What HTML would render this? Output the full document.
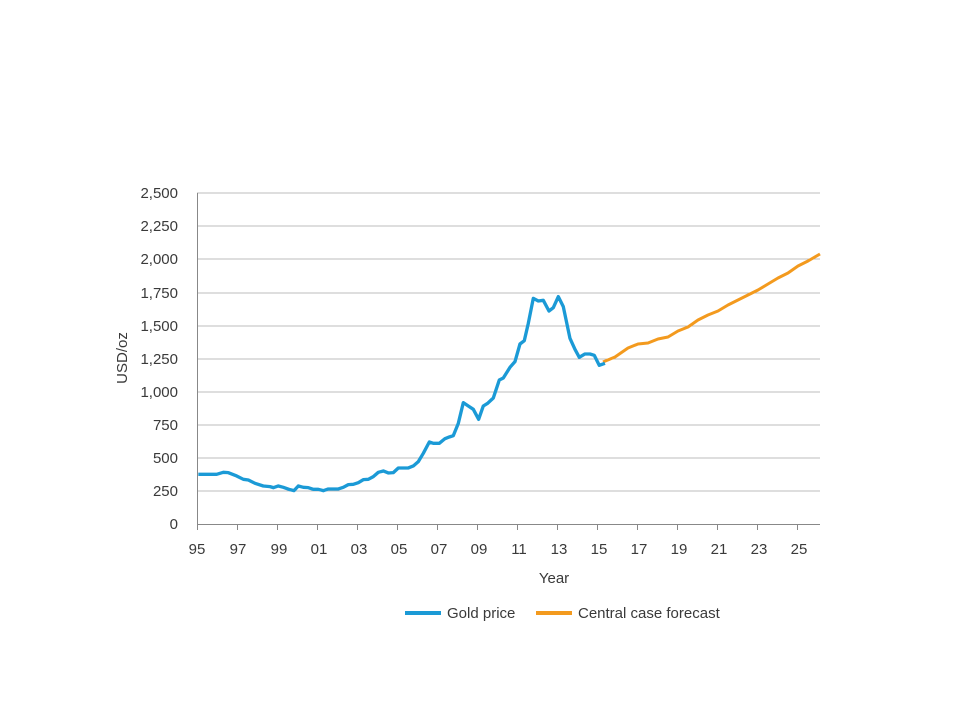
<!DOCTYPE html><html><head><style>body{margin:0;background:#fff}svg{display:block}text{font-family:"Liberation Sans",sans-serif;fill:#3a3a3a;font-size:15px}</style></head><body>
<svg width="960" height="720" viewBox="0 0 960 720">
<g stroke="#bdbdbd" stroke-width="1">
<line x1="197" x2="820" y1="491" y2="491"/><line x1="197" x2="820" y1="458" y2="458"/><line x1="197" x2="820" y1="425" y2="425"/><line x1="197" x2="820" y1="392" y2="392"/><line x1="197" x2="820" y1="359" y2="359"/><line x1="197" x2="820" y1="326" y2="326"/><line x1="197" x2="820" y1="293" y2="293"/><line x1="197" x2="820" y1="259" y2="259"/><line x1="197" x2="820" y1="226" y2="226"/><line x1="197" x2="820" y1="193" y2="193"/>
</g>
<g stroke="#888" stroke-width="1"><line x1="197.5" y1="193" x2="197.5" y2="530"/><line x1="197" x2="820" y1="524.5" y2="524.5"/>
<line x1="237.5" x2="237.5" y1="524" y2="530"/><line x1="277.5" x2="277.5" y1="524" y2="530"/><line x1="317.5" x2="317.5" y1="524" y2="530"/><line x1="357.5" x2="357.5" y1="524" y2="530"/><line x1="397.5" x2="397.5" y1="524" y2="530"/><line x1="437.5" x2="437.5" y1="524" y2="530"/><line x1="477.5" x2="477.5" y1="524" y2="530"/><line x1="517.5" x2="517.5" y1="524" y2="530"/><line x1="557.5" x2="557.5" y1="524" y2="530"/><line x1="597.5" x2="597.5" y1="524" y2="530"/><line x1="637.5" x2="637.5" y1="524" y2="530"/><line x1="677.5" x2="677.5" y1="524" y2="530"/><line x1="717.5" x2="717.5" y1="524" y2="530"/><line x1="757.5" x2="757.5" y1="524" y2="530"/><line x1="797.5" x2="797.5" y1="524" y2="530"/>
</g>
<g text-anchor="end">
<text x="178" y="529">0</text><text x="178" y="496">250</text><text x="178" y="463">500</text><text x="178" y="430">750</text><text x="178" y="397">1,000</text><text x="178" y="364">1,250</text><text x="178" y="331">1,500</text><text x="178" y="298">1,750</text><text x="178" y="264">2,000</text><text x="178" y="231">2,250</text><text x="178" y="198">2,500</text>
</g>
<g text-anchor="middle">
<text x="197" y="554">95</text><text x="238" y="554">97</text><text x="279" y="554">99</text><text x="319" y="554">01</text><text x="359" y="554">03</text><text x="399" y="554">05</text><text x="439" y="554">07</text><text x="479" y="554">09</text><text x="519" y="554">11</text><text x="559" y="554">13</text><text x="599" y="554">15</text><text x="639" y="554">17</text><text x="679" y="554">19</text><text x="719" y="554">21</text><text x="759" y="554">23</text><text x="799" y="554">25</text>
<text x="554" y="583">Year</text>
<text transform="translate(127,358) rotate(-90)">USD/oz</text>
</g>
<polyline fill="none" stroke="#f39a1e" stroke-width="3" stroke-linejoin="round" points="603,362 615,357 628,348 638,344 648,343 658,339 668,337 678,331 688,327 698,320 708,315 718,311 728,305 738,300 748,295 758,290 768,284 778,278 788,273 798,266 808,261 820,254"/>
<g transform="translate(190,280) scale(0.3333)">
<polyline fill="none" stroke="#1b9ad6" stroke-width="10" stroke-linejoin="round" points="25,583 80,583 100,577 115,578 140,588 160,598 175,600 195,610 220,618 240,620 250,623 265,618 280,622 300,629 312,632 325,618 340,622 355,623 370,628 385,628 400,632 415,627 445,627 460,622 475,614 490,613 505,608 520,599 535,598 550,590 565,577 580,573 595,579 610,578 625,564 655,564 670,558 685,545 700,520 718,486 730,490 748,490 765,476 778,471 790,467 805,430 820,368 835,378 850,388 866,418 880,378 893,370 910,354 928,300 940,294 960,262 975,245 990,192 1003,182 1015,130 1030,55 1045,63 1060,61 1077,93 1090,83 1105,50 1120,80 1140,175 1155,208 1168,232 1185,222 1200,222 1213,226 1228,256 1245,250"/>
</g>
<line x1="405" x2="441" y1="613" y2="613" stroke="#1b9ad6" stroke-width="4"/>
<text x="447" y="618">Gold price</text>
<line x1="536" x2="572" y1="613" y2="613" stroke="#f39a1e" stroke-width="4"/>
<text x="578" y="618">Central case forecast</text>
</svg></body></html>
